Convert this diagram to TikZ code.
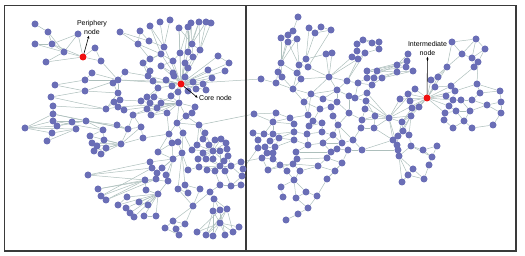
\documentclass[tikz,border=0pt]{standalone}
\usepackage{fontspec}
\setmainfont{Liberation Sans}
\usepackage{tikz}
\usetikzlibrary{arrows.meta,backgrounds}
\definecolor{dotblue}{HTML}{6A6EB6}
\definecolor{seedred}{HTML}{F01010}
\definecolor{linkgray}{HTML}{ADBFBC}
\definecolor{framegray}{HTML}{3A3A3A}

\begin{document}
\begin{tikzpicture}[
  x=1pt, y=-1pt,
  dot/.style={circle, fill=dotblue, inner sep=0pt, minimum size=7pt},
  seed/.style={dot, fill=seedred},
  link/.style={draw=linkgray, line width=0.5pt},
  callout/.style={font=\fontsize{7}{8.2}\selectfont, align=center, inner sep=1pt},
  pointer/.style={-{Latex[length=3pt,width=2.4pt]}, line width=0.6pt},
  frame/.style={draw=framegray, line width=1.2pt}
]
\useasboundingbox (0,0) rectangle (525,256);
\draw[frame] (4.5,5.5) rectangle (516,251);
\draw[frame] (246,5.5) -- (246,251);

\node[seed] (periphery) at (83,57) {};
\node[seed] (core) at (181,84) {};
\node[seed] (intermediate) at (427,98) {};

% left panel
\foreach \n/\x/\y in {a1/35/24, a2/48/32, a3/35/44, a4/52/44, a5/78/34, a6/64/52, a7/46/62, a8/95/48, a9/101/61,
  b1/120/32, b2/140/31, b3/150/26, b4/160/22, b5/170/20, b6/179/28, b7/188/27, b8/191/23, b9/199/22, b10/206/22, b11/211/23,
  b12/138/44, b13/149/41, b14/164/47, b15/192/44, b16/200/50, b17/188/52, b18/180/53, b19/161/54, b20/150/59, b21/193/57,
  b22/218/56, b23/229/63, b24/143/63, b25/173/61, b26/185/63, b27/161/66, b28/150/71, b29/125/72, b30/188/68, b31/173/73,
  b32/148/76, b33/208/70, b34/225/71,
  c1/92/73, c2/85/80, c3/113/83, c4/118/80, c5/153/81, c6/166/80, c7/174/76, c8/185/77, c9/212/78, c10/193/82, c11/203/84,
  c12/55/85, c13/158/88, c14/172/86, c15/178/92, c16/171/96, c17/188/91, c18/196/89, c20/206/90, c21/85/91, c22/118/93,
  d1/51/97, d2/53/106, d3/53/114, d4/53/121, d5/72/122, d6/86/121, d7/57/126, d8/76/129, d9/25/128, d10/52/133, d11/47/141,
  d12/106/109, d13/103/130, d14/117/125, d15/128/129, d17/114/102, d18/120/100, d19/118/107, d20/124/110,
  e1/104/140, e2/92/143, e3/97/146, e4/106/148, e5/94/151, e6/101/154, e7/121/144, e8/90/136,
  f1/141/101, f2/147/97, f3/154/97, f4/150/103, f5/161/103, f6/179/103, f7/147/109, f8/157/108, f9/167/113, f10/133/115, f11/151/115,
  g1/186/116, g2/192/113, g3/195/107, g5/177/123, g6/199/125, g7/141/127, g8/143/138, g9/169/134, g10/183/133,
  h1/205/133, h2/203/139, h3/209/145, h4/215/140, h5/221/139, h6/226/143, h7/227/149, h8/213/151, h9/220/151, h10/228/156,
  h11/198/159, h12/206/159, h13/213/159, h14/224/161, h15/220/166, h16/199/167, h17/207/170, h18/215/171, h19/225/171,
  h20/231/166, h21/241/162, h22/243/169, h23/242/176, h24/231/186, h25/241/185, h26/220/185, h27/192/150, h28/197/145, h29/203/153,
  k1/210/192, k2/214/199, k3/213/211, k4/220/210, k5/227/209, k6/220/223, k8/239/227, k9/197/232, k10/206/235, k11/213/236,
  k12/225/235, k13/233/232, k14/193/206, k15/173/221, k16/185/224, k17/165/228, k18/176/229, k19/179/235,
  l1/88/175, l2/98/189, l3/101/196, l4/106/200, l5/145/180, l6/156/179, l7/157/173, l8/152/168, l9/150/162, l10/162/168,
  l11/166/175, l12/168/181, l13/146/190, l14/158/194, l15/127/197, l16/118/205, l17/139/202, l18/148/205, l19/126/208,
  l20/130/213, l21/134/217, l22/144/216, l23/156/216, l24/178/189, l25/185/185, l26/188/193, l27/200/189, l28/173/159,
  l29/182/153, l30/188/170, l31/158/152, m1/172/143, m2/178/142}
  \node[dot] (\n) at (\x,\y) {};

% right panel
\foreach \n/\x/\y in {p1/298/17, p2/293/31, p3/309/28, p4/315/33, p5/321/27, p6/331/30, p7/281/38, p8/288/35, p9/297/39, p10/288/42,
  p11/281/63, p12/299/65, p13/306/59, p14/308/67, p15/278/72, p16/282/77, p17/297/73, p18/301/79, p19/261/79, p20/276/83,
  p21/293/89, p22/326/54, p23/332/53,
  q1/363/40, q2/357/44, q3/379/42, q4/372/43, q5/379/49, q6/357/51, q7/365/53, q8/352/57, q9/358/59,
  r1/329/77, r2/367/71, r3/377/71, r4/367/78, r5/374/78, r6/382/78, r7/347/81, r8/358/83, r9/372/85, r10/337/90,
  r11/311/94, r12/367/93, r14/323/99, r15/349/96, r16/355/98, r18/337/102, r19/304/102, r20/366/101, r21/320/109,
  r22/331/107, r23/365/109, r24/349/113, r25/276/113, r26/290/118, r27/308/115, r30/362/120, r31/375/116, r32/313/121,
  r33/333/116, r34/338/125,
  s1/408/54, s2/407/61, s3/397/65, s4/406/67, s5/413/71, s6/397/72,
  t1/452/42, t2/476/39, t3/485/49, t4/462/54, t5/472/58, t6/447/67, t7/474/67, t8/478/62, t9/431/80, t10/438/77,
  t11/415/89, t12/435/87, t13/451/86, t14/455/91, t15/477/84, t16/446/96, t17/453/100, t18/461/100, t19/472/100,
  t20/480/93, t21/500/91, t22/400/99, t23/410/101, t24/412/108, t25/419/107, t26/449/106, t27/456/111, t28/470/111,
  t29/487/105, t30/501/102, t31/501/113, t32/445/113, t33/444/120, t35/464/121, t36/493/125, t37/453/128, t38/472/128,
  t39/408/94, t41/411/116, t42/389/118, t43/402/122,
  u1/253/133, u2/258/140, u3/264/134, u4/270/141, u5/273/134, u6/279/138, u7/258/148, u8/265/147, u11/275/147,
  u12/267/153, u13/273/153, u14/262/158, u15/273/159, u16/254/114, u18/273/122, u20/294/124, u22/268/170, u23/280/165,
  u24/293/164, u25/287/171, u26/300/171, u27/294/180, u28/281/187, u29/283/197, u30/296/198, u31/306/192, u32/317/196,
  u33/308/208, u34/298/214, u35/286/220, u36/327/179, u38/294/132, u39/307/134, u40/294/140, u41/308/145, u42/296/152,
  u43/297/159,
  v1/318/166, v2/335/171, v3/342/163, v4/331/152, v5/327/158, v6/337/149, v7/342/143, v8/348/150, v9/353/140, v10/362/150,
  v11/323/143, v12/333/135, v13/322/132, v17/322/123, v18/309/126, v20/361/128, v21/374/128,
  w1/393/140, w2/397/145, w3/398/136, w4/403/131, w5/409/135, w6/398/150, w7/399/156, w8/411/146, w9/423/150, w10/437/146,
  w11/432/157, w12/429/165, w13/413/169, w14/408/175, w15/424/179, w16/402/182}
  \node[dot] (\n) at (\x,\y) {};

\node[callout] (perlabel) at (92,27.5) {Periphery\\node};
\node[callout, anchor=west] (corelabel) at (198,98) {Core node};
\node[callout] (intlabel) at (427.5,48.5) {Intermediate\\node};

\begin{pgfonlayer}{background}
\foreach \q in {b6,b7,b14,b16,b17,b18,b19,b21,b22,b23,b25,b26,b27,b30,b31,b32,b33,b34,c4,c5,c6,c7,c8,c9,c10,c11,c13,c14,c15,
  c16,c17,c18,c20,f6,p19}
  \draw[link] (core) -- (\q);
\foreach \q in {a4,a5,a6,a7,a8,a9}
  \draw[link] (periphery) -- (\q);
\foreach \q in {t6,t9,t10,t11,t12,t13,t14,t16,t17,t22,t23,t24,t25,t26,t32,t39,t41,t42,t43}
  \draw[link] (intermediate) -- (\q);
\foreach \q in {h1,h2,h3,h4,h5,h6,h7,h9,h11,h12,h13,h14,h27,h28,h29}
  \draw[link] (h8) -- (\q);
\foreach \q in {h9,h10,h12,h13,h14,h16,h17,h18,h19,h20}
  \draw[link] (h15) -- (\q);
\foreach \q in {k3,k4,k5,k8,k9,k10,k11,k12,k13}
  \draw[link] (k6) -- (\q);
\foreach \q in {l13,l15,l16,l17,l18,l19,l20,l21,l22,l23,l12}
  \draw[link] (l14) -- (\q);
\foreach \q in {d19,d20,f3,f5,f8,f9,f10,f11,c16,g1,g3,g5}
  \draw[link] (f6) -- (\q);
\foreach \q in {r12,r20,r23,r30,r31,t11,t22,t41,t43,v21,w1,w2}
  \draw[link] (t42) -- (\q);
\foreach \p/\q in {a1/a2, a2/a4, a2/a6, a3/a4, a3/a6, a4/a6, a5/a6, a5/a4, a7/a6, a8/a9, a9/c4,
  b1/b13, b1/b12, b2/b12, b2/b13, b3/b14, b4/b14, b5/b14, b3/b19, b13/b14, b12/b19, b14/b19, b19/b20, b19/b24, b20/b24,
  b24/b28, b19/b25, b6/b18, b7/b17, b8/b17, b9/b15, b10/b15, b11/b16, b6/b15, b7/b18, b9/b17, b10/b16, b8/b15, b15/b16,
  b15/b21, b17/b21, b18/b25, b21/b26, b22/b23, b28/b32, b29/b32, b24/b32, b27/b31, b25/b27, b12/b20, b9/b16,
  c1/c4, c2/c4, c3/c4, c12/c2, c12/c21, c21/c4, c21/c22, c4/c22, c4/c5, c1/c2, c3/c22, c4/b29, c5/c13, c6/c14, c9/c11,
  c11/c20, c9/b33,
  d1/c21, d1/d12, d2/d12, d2/d3, d3/d6, d4/d6, d5/d6, d9/d3, d9/d10, d9/d7, d9/d4, d9/d8, d7/d5, d8/d5, d10/d8, d11/d10,
  d11/d8, d6/d14, d6/d15, d6/d13, d12/d17, d12/d19, d12/c22, d4/d13, d3/d15, d17/d18, d18/c22, d19/d20, d17/d19, d7/d6,
  e8/e7, e1/e7, e2/e7, e3/e7, e4/e7, e5/e7, e6/e7, e1/e3, e2/e5, e8/d13, e1/d13, e4/e6, e7/d15, e7/g7, e7/g8, d15/d14,
  f1/d18, f1/f2, f2/f4, f3/f4, f4/f7, f7/f8, f8/f9, f10/d15, f11/f9, f1/f4, f5/f8, f10/f7, f2/c13, f3/c13, f5/c16,
  g5/g9, g5/g10, g5/g1, g1/g2, g2/g3, g6/g5, g6/g1, g7/d15, g7/g8, g7/f10, g8/g9, g9/f9, g6/h1, g6/h2, g6/u16,
  h3/h4, h5/h6, h6/h7, h7/h10, h10/h20, h20/h21, h21/h22, h22/h23, h20/h23, h19/h24, h24/h25, h24/h23, h26/h18,
  h26/h25, h26/k1, h28/g6, h27/g10, h29/h11, h16/h11, h17/h18, h21/u14, h22/u7,
  k1/k2, k2/k3, k2/k4, k2/k5, k4/k9, k5/k10, k3/k11, k4/k12, k5/k13, k3/k10, k8/k13, k14/k1, k14/k15, k15/k16,
  k15/k17, k15/k18, k16/k18, k17/k19, k18/k19, k16/k14, k14/l27,
  l1/l5, l1/l9, l1/l8, l2/l5, l3/l5, l4/l5, l4/l6, l2/l6, l3/l8, l5/l6, l6/l7, l7/l8, l8/l9, l9/l28, l10/l28, l11/l28,
  l12/l28, l7/l28, l28/l29, l29/g10, l28/l31, l31/g9, l13/l5, l17/l18, l15/l16, l24/l29, l25/l29, l26/l25, l27/l25,
  l24/l26, l30/l29, l30/h16, l11/l12, l23/l22, l24/k14, m1/g9, m2/g10, m1/l28, m2/l29, l31/m1, l5/l12, l3/l4,
  p1/p2, p2/p8, p2/p7, p3/p4, p5/p4, p6/p4, p4/p13, p3/p13, p7/p11, p8/p11, p10/p11, p9/p11, p9/p12, p10/p12, p11/p15,
  p11/p16, p11/p17, p12/p13, p12/p14, p12/p17, p12/p18, p14/p6, p15/p20, p16/p20, p17/p21, p18/p21, p20/p21, p19/p20,
  p21/r11, p22/p23, p22/r1, p23/r1, p14/r1, p13/p22, p7/p8, p9/p10, p5/p6, p21/p16, p21/r19, p18/r1,
  q1/q2, q1/q3, q2/q6, q3/q5, q4/q5, q4/q1, q6/q7, q5/q7, q8/q9, q6/q9, q7/q9, q9/r1, q8/r1, q3/q4, q7/r7, q9/r7,
  r1/r10, r1/r11, r10/r11, r10/r15, r10/r14, r7/r10, r2/r4, r3/r5, r2/r3, r4/r8, r5/r9, r6/r9, r7/r8, r8/r9, r8/r16,
  r9/r12, r12/r20, r15/r16, r16/r12, r20/r23, r14/r18, r11/r19, r19/r21, r18/r22, r21/r22, r22/r33, r23/r30, r24/r30,
  r24/r18, r25/r26, r26/r27, r27/r19, r32/r27, r33/r34, r34/r24, r30/r31, r1/r7, r10/r18, r14/r11, r15/r24, r16/r20,
  r11/r27, r25/u16, r26/u18, r20/r31, r32/r21, r32/v17, r30/v20,
  s1/s2, s2/s4, s3/s4, s4/s5, s5/s6, s3/s6, s3/r2, s6/r3, s6/r6, s5/r6, s3/r3, s1/s3, s2/r2, s4/r3, s2/r4, s6/r5,
  t1/t6, t1/t4, t2/t4, t2/t5, t3/t5, t3/t8, t4/t5, t4/t6, t5/t7, t7/t8, t6/t10, t6/t9, t9/t10, t7/t13, t12/t13,
  t13/t14, t14/t15, t15/t20, t15/t21, t20/t21, t14/t17, t16/t17, t17/t18, t18/t19, t19/t20, t19/t29, t29/t30,
  t30/t31, t21/t30, t29/t31, t26/t27, t27/t28, t28/t29, t32/t33, t32/t27, t33/t37, t27/t35, t35/t38, t28/t35,
  t31/t36, t36/t38, t18/t28, t37/t35, t8/t15, t1/t2, t3/t2, t22/t39, t23/t24, t24/t25, t41/t43, t43/t24,
  w3/t43, w4/t43, w1/w3, w2/w3, w4/w5, w5/w8, w6/w2, w6/w7, w7/w8, w8/w9, w9/w10, w9/w11, w11/w12, w7/w13, w7/w14,
  w7/w16, w13/w14, w12/w15, w16/w14, w13/w15, w3/t41, w4/t41, w5/t41, w1/v10, w6/v10, w1/v21, w10/w11, w8/w11,
  w14/w15, w4/w3,
  u16/u18, u18/u20, u20/r26, u18/r25, u1/u3, u2/u3, u3/u5, u4/u5, u5/u6, u4/u6, u7/u8, u8/u4, u8/u11, u6/u11, u12/u13,
  u13/u15, u14/u15, u8/u12, u11/u13, u6/u38, u6/u40, u38/u39, u40/u41, u39/u41, u38/u20, u42/u43, u41/u42, u43/u24,
  u24/u22, u22/u23, u23/u25, u24/u26, u25/u27, u26/u27, u27/u28, u27/u30, u27/u31, u28/u29, u30/u31, u31/u32, u36/u32,
  u33/u32, u33/u34, u34/u35, u30/u33, u1/u2, u2/u7, u14/u12, u15/u23, u40/u11, u5/u38, u3/u18, u18/u5, u23/u24,
  u22/u14, u26/v1,
  v4/v5, v4/v6, v6/v7, v6/v8, v7/v9, v8/v10, v9/v10, v4/v11, v11/v12, v12/v13, v13/v17, v17/v18, v12/r34, v7/v12,
  v3/v8, v3/v2, v1/v5, v1/v2, v1/u24, v2/u36, v5/v3, v9/v20, v20/v21, v18/u39, v11/u41, v13/u39, v7/r34, v9/r34,
  v21/r31, v4/u42, v5/u43, v11/v7, v3/u36}
  \draw[link] (\p) -- (\q);
\end{pgfonlayer}

\draw[pointer] (periphery) -- ([xshift=-3pt]perlabel.south);
\draw[pointer] (core) -- (corelabel.west);
\draw[pointer] (intermediate) -- (intlabel.south);
\end{tikzpicture}
\end{document}
